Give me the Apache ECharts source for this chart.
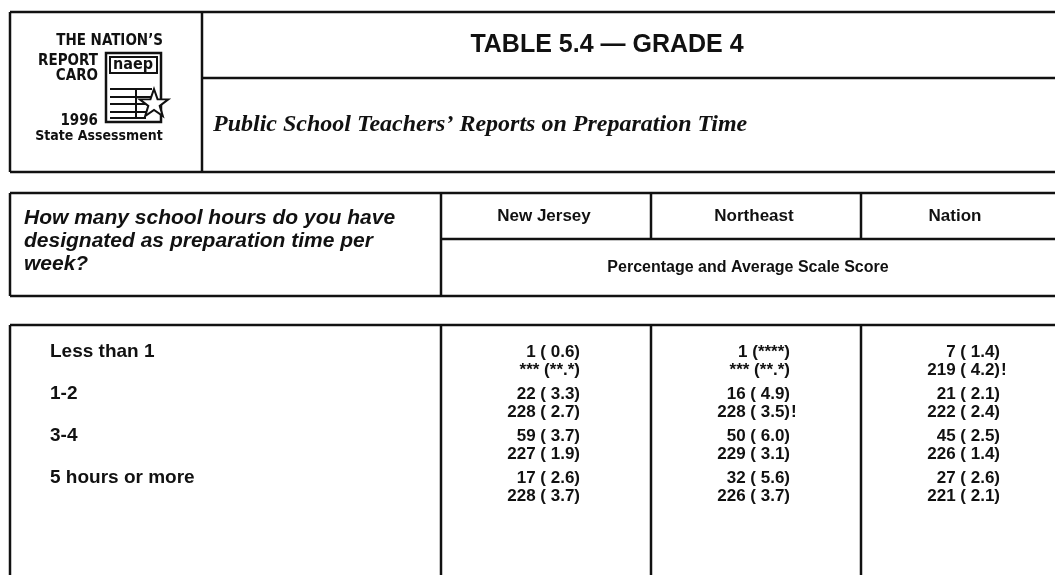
<!DOCTYPE html>
<html>
<head>
<meta charset="utf-8">
<script src="https://cdn.jsdelivr.net/npm/echarts@6/dist/echarts.min.js"></script>
<style>
    html, body { margin: 0; padding: 0; background: #fff; }
    #main { width: 1055px; height: 575px; }
</style>
</head>
<body>
<div id="main"></div>
<script>
const regions = ['New Jersey', 'Northeast', 'Nation'];
const hours = ['Less than 1', '1-2', '3-4', '5 hours or more'];
const question = ['How many school hours do you have', 'designated as preparation time per', 'week?'];

// percentage of teachers ( standard error )
const pctNewJersey = ['1', '22', '59', '17'];
const pctSeNewJersey = ['0.6', '3.3', '3.7', '2.6'];
const pctNortheast = ['1', '16', '50', '32'];
const pctSeNortheast = ['****', '4.9', '6.0', '5.6'];
const pctNation = ['7', '21', '45', '27'];
const pctSeNation = ['1.4', '2.1', '2.5', '2.6'];

// average scale score ( standard error ), "!" = interpret with caution
const scoreNewJersey = ['***', '228', '227', '228'];
const scoreSeNewJersey = ['**.*', '2.7', '1.9', '3.7'];
const scoreNortheast = ['***', '228', '229', '226'];
const scoreSeNortheast = ['**.*', '3.5', '3.1', '3.7'];
const scoreFlagNortheast = ['', '!', '', ''];
const scoreNation = ['219', '222', '226', '221'];
const scoreSeNation = ['4.2', '2.4', '1.4', '2.1'];
const scoreFlagNation = ['!', '', '', ''];

// --- layout ---
const W = 1055, H = 575;
const INK = '#111';
const SANS = '"Liberation Sans", Arial, Helvetica, sans-serif';
const NARROW = '"Liberation Sans Narrow", "DejaVu Sans Condensed", "Liberation Sans", sans-serif';
const SERIF = '"Liberation Serif", "Times New Roman", serif';

const boxLeft = 10;
const colEdges = [441, 651, 861, W];
const valueRight = [580, 790, 1000];
const rowY0 = 352, rowStep = 42, lineStep = 18;
const labelX = 50;

function fmt(v, se, flag) {
    return { text: v + ' (' + se.padStart(4, ' ') + ')', flag: flag || '' };
}

const columns = [
    { pct: pctNewJersey, pctSe: pctSeNewJersey, score: scoreNewJersey, scoreSe: scoreSeNewJersey, flag: ['', '', '', ''] },
    { pct: pctNortheast, pctSe: pctSeNortheast, score: scoreNortheast, scoreSe: scoreSeNortheast, flag: scoreFlagNortheast },
    { pct: pctNation, pctSe: pctSeNation, score: scoreNation, scoreSe: scoreSeNation, flag: scoreFlagNation }
];

const cells = [];
columns.forEach((c, ci) => {
    hours.forEach((h, ri) => {
        cells.push(Object.assign({ col: ci, row: ri, line: 0 }, fmt(c.pct[ri], c.pctSe[ri])));
        cells.push(Object.assign({ col: ci, row: ri, line: 1 }, fmt(c.score[ri], c.scoreSe[ri], c.flag[ri])));
    });
});

function line(x1, y1, x2, y2, w) {
    return { type: 'line', shape: { x1, y1, x2, y2 }, style: { stroke: INK, lineWidth: w || 2.5 }, silent: true };
}
function text(x, y, str, size, opts) {
    opts = opts || {};
    return {
        type: 'text', x: x, y: y, silent: true,
        style: {
            text: str, fill: INK,
            fontSize: size, fontWeight: opts.weight || 'bold', fontStyle: opts.style || 'normal',
            fontFamily: opts.family || SANS,
            align: opts.align || 'left', verticalAlign: 'middle'
        }
    };
}
function star(cx, cy, R, r) {
    const pts = [];
    for (let i = 0; i < 10; i++) {
        const a = -Math.PI / 2 + i * Math.PI / 5;
        const rad = i % 2 ? r : R;
        pts.push([cx + rad * Math.cos(a), cy + rad * Math.sin(a)]);
    }
    return pts;
}

const graphics = [
    // top header box
    line(boxLeft, 12, W, 12), line(boxLeft, 172, W, 172), line(boxLeft, 12, boxLeft, 172),
    line(202, 12, 202, 172), line(202, 78, W, 78),
    text(607, 45, 'TABLE 5.4 \u2014 GRADE 4', 25, { align: 'center' }),
    text(213, 125, 'Public School Teachers\u2019 Reports on Preparation Time', 24, { family: SERIF, style: 'italic' }),

    // logo
    text(163, 41, 'THE NATION\u2019S', 15, { family: NARROW, align: 'right' }),
    text(98, 61, 'REPORT', 15, { family: NARROW, align: 'right' }),
    text(98, 76, 'CARO', 15, { family: NARROW, align: 'right' }),
    text(98, 121, '1996', 15, { family: NARROW, align: 'right' }),
    text(99, 136, 'State Assessment', 14, { family: NARROW, align: 'center' }),
    { type: 'rect', shape: { x: 106, y: 53, width: 55, height: 69 }, style: { fill: '#fff', stroke: INK, lineWidth: 2.5 }, silent: true },
    { type: 'rect', shape: { x: 110, y: 57, width: 47, height: 16 }, style: { fill: '#fff', stroke: INK, lineWidth: 2 }, silent: true },
    text(133, 65, 'naep', 16, { family: NARROW, align: 'center' }),
    line(110, 89, 152, 89, 2), line(110, 97, 152, 97, 2), line(110, 104, 148, 104, 2),
    line(110, 112, 146, 112, 2), line(110, 118, 146, 118, 2), line(136, 89, 136, 118, 2),
    { type: 'polygon', shape: { points: star(154, 104, 15, 6) }, style: { fill: '#fff', stroke: INK, lineWidth: 2 }, silent: true },

    // column header box
    line(boxLeft, 193, W, 193), line(boxLeft, 296, W, 296), line(boxLeft, 193, boxLeft, 296),
    line(colEdges[0], 193, colEdges[0], 296), line(colEdges[0], 239, W, 239),
    line(colEdges[1], 193, colEdges[1], 239), line(colEdges[2], 193, colEdges[2], 239),
    text(748, 268, 'Percentage and Average Scale Score', 16, { align: 'center' }),

    // data box
    line(boxLeft, 325, W, 325), line(boxLeft, 325, boxLeft, H),
    line(colEdges[0], 325, colEdges[0], H), line(colEdges[1], 325, colEdges[1], H), line(colEdges[2], 325, colEdges[2], H)
];

question.forEach((q, i) => {
    graphics.push(text(24, 218 + i * 23, q, 21, { style: 'italic' }));
});
regions.forEach((r, i) => {
    const right = i === 2 ? W - 2 : colEdges[i + 1];
    graphics.push(text((colEdges[i] + right) / 2 - 2, 216, r, 17, { align: 'center' }));
});

const chart = echarts.init(document.getElementById('main'));
chart.setOption({
    animation: false,
    grid: { left: 0, right: 0, top: 0, bottom: 0 },
    xAxis: { type: 'value', min: 0, max: W, show: false },
    yAxis: { type: 'value', min: 0, max: H, inverse: true, show: false },
    graphic: graphics,
    series: [
        {
            // row labels
            type: 'custom',
            coordinateSystem: 'cartesian2d',
            data: hours.map((h, i) => [labelX, rowY0 + i * rowStep]),
            renderItem(params, api) {
                const p = api.coord([api.value(0), api.value(1)]);
                return {
                    type: 'text', x: p[0], y: p[1],
                    style: { text: hours[params.dataIndex], fill: INK, fontSize: 19, fontWeight: 'bold', fontFamily: SANS, align: 'left', verticalAlign: 'middle' }
                };
            }
        },
        {
            // percentage and scale score cells
            type: 'custom',
            coordinateSystem: 'cartesian2d',
            data: cells.map(c => [valueRight[c.col], rowY0 + c.row * rowStep + c.line * lineStep]),
            renderItem(params, api) {
                const c = cells[params.dataIndex];
                const p = api.coord([api.value(0), api.value(1)]);
                const st = { fill: INK, fontSize: 17, fontWeight: 'bold', fontFamily: SANS, verticalAlign: 'middle' };
                const children = [
                    { type: 'text', x: p[0], y: p[1], style: Object.assign({ text: c.text, align: 'right' }, st) }
                ];
                if (c.flag) {
                    children.push({ type: 'text', x: p[0] + 1, y: p[1], style: Object.assign({ text: c.flag, align: 'left' }, st) });
                }
                return { type: 'group', children: children };
            }
        }
    ]
});
</script>
</body>
</html>
